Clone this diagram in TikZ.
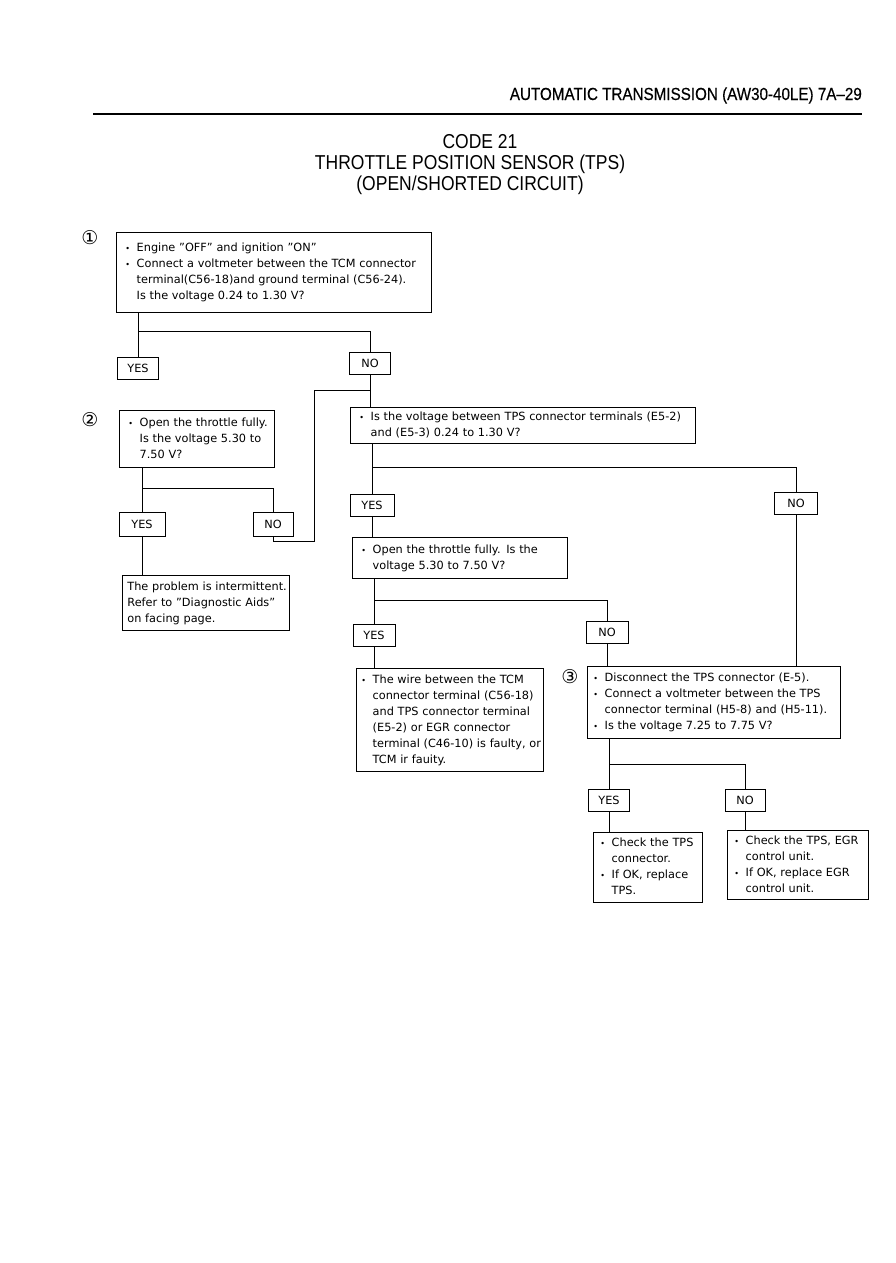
\documentclass[tikz,border=0pt]{standalone}
\usepackage{fontspec}
\setmainfont{DejaVu Sans}
\newfontfamily\hdfont{Liberation Sans}
\newfontfamily\hdbfont[FakeBold=0.4]{Liberation Sans}
\newfontfamily\symfont{DejaVu Sans}
\newcommand\bodyfont{\fontsize{11.3}{16}\selectfont}
\newcommand\bl{\makebox[1em][l]{\fontsize{8}{8}\selectfont•}}
\newcommand\cn{\hspace*{1em}}
\newcommand\tb[1]{\begin{tabular}{@{}l@{}}#1\end{tabular}}
\newcommand\tall[1]{\scalebox{1}[1.15]{#1}}
\begin{document}
\begin{tikzpicture}[x=1pt,y=-1pt,
  box/.style={draw, line width=0.8pt, inner xsep=9pt, inner ysep=0pt, anchor=north west, align=left, font=\bodyfont},
  yn/.style={draw, line width=0.8pt, minimum height=22pt, minimum width=41pt, inner sep=0pt, font=\bodyfont},
  num/.style={font=\symfont\fontsize{19}{19}\selectfont, inner sep=0pt},
  ttl/.style={anchor=base, font=\hdfont\fontsize{17.5}{20}\selectfont, inner sep=0pt},
  conn/.style={line width=0.8pt}]
\useasboundingbox (0,0) rectangle (896,1263);
\fill[white] (0,0) rectangle (896,1263);

% header
\node[anchor=base east, font=\hdbfont\fontsize{15.2}{18}\selectfont, inner sep=0pt] (hdr) at (862,100) {\tall{AUTOMATIC TRANSMISSION (AW30-40LE) 7A–29}};
\draw[line width=1.6pt] (93,114) -- (hdr.east |- 0,114);

% title
\node[ttl] (t1) at (480,148) {\tall{CODE 21}};
\node[ttl] (t2) at (470,169) {\tall{THROTTLE POSITION SENSOR (TPS)}};
\node[ttl] (t3) at (470,190) {\tall{(OPEN/SHORTED CIRCUIT)}};

% circled numbers
\node[num] (c1) at (90,238) {①};
\node[num] (c2) at (90,420) {②};
\node[num] (c3) at (570,677) {③};

% boxes
\node[box, minimum width=315pt, minimum height=80pt, text width=297pt] (b1) at (116,232) {\tb{%
\bl Engine "OFF" and ignition "ON"\\
\bl Connect a voltmeter between the TCM connector\\
\cn terminal(C56-18)and ground terminal (C56-24).\\
\cn Is the voltage 0.24 to 1.30 V?}};

\node[box, minimum width=155pt, minimum height=57pt, text width=137pt] (b2) at (119,410) {\tb{%
\bl Open the throttle fully.\\
\cn Is the voltage 5.30 to\\
\cn 7.50 V?}};

\node[box, inner xsep=5pt, minimum width=167pt, minimum height=55pt, text width=157pt] (bp) at (122,575) {\tb{%
The problem is intermittent.\\
Refer to "Diagnostic Aids"\\
on facing page.}};

\node[box, minimum width=345pt, minimum height=36pt, text width=327pt] (b3) at (350,407) {\tb{%
\bl Is the voltage between TPS connector terminals (E5-2)\\
\cn and (E5-3) 0.24 to 1.30 V?}};

\node[box, minimum width=215pt, minimum height=41pt, text width=197pt] (b4) at (352,537) {\tb{%
\bl Open the throttle fully. Is the\\
\cn voltage 5.30 to 7.50 V?}};

\node[box, inner xsep=5pt, minimum width=187pt, minimum height=103pt, text width=177pt] (b5) at (356,668) {\tb{%
\bl The wire between the TCM\\
\cn connector terminal (C56-18)\\
\cn and TPS connector terminal\\
\cn (E5-2) or EGR connector\\
\cn terminal (C46-10) is faulty, or\\
\cn TCM ir fauity.}};

\node[box, inner xsep=6pt, minimum width=253pt, minimum height=72pt, text width=241pt] (b6) at (587,666) {\tb{%
\bl Disconnect the TPS connector (E-5).\\
\bl Connect a voltmeter between the TPS\\
\cn connector terminal (H5-8) and (H5-11).\\
\bl Is the voltage 7.25 to 7.75 V?}};

\node[box, inner xsep=7pt, minimum width=109pt, minimum height=70pt, text width=95pt] (b7) at (593,832) {\tb{%
\bl Check the TPS\\
\cn connector.\\
\bl If OK, replace\\
\cn TPS.}};

\node[box, inner xsep=7pt, minimum width=141pt, minimum height=69pt, text width=127pt] (b8) at (727,830) {\tb{%
\bl Check the TPS, EGR\\
\cn control unit.\\
\bl If OK, replace EGR\\
\cn control unit.}};

% yes / no
\node[yn] (y1) at (138,368) {YES};
\node[yn] (n1) at (370,363.5) {NO};
\node[yn, minimum width=46pt, minimum height=24pt] (y2) at (142,524) {YES};
\node[yn, minimum width=40pt, minimum height=24pt] (n2) at (273,524) {NO};
\node[yn, minimum width=44pt] (y3) at (372,505.5) {YES};
\node[yn, minimum width=43pt] (n3) at (796,503) {NO};
\node[yn, minimum width=42pt] (y4) at (374,635) {YES};
\node[yn, minimum width=42pt] (n4) at (607,632) {NO};
\node[yn, minimum width=41pt] (y5) at (609,800.5) {YES};
\node[yn, minimum width=40pt] (n5) at (745,800) {NO};

\coordinate (lp) at (314,390);

% connectors
\draw[conn] (b1.south -| y1) -- (y1.north);
\draw[conn] (b1.south -| y1) ++(0,19) -| (n1.north);
\draw[conn] (n1.south) -- (b3.north -| n1);
\draw[conn] (n2.south) -- ++(0,5) -| (lp) -- (lp -| n1);

\draw[conn] (b2.south -| y2) -- (y2.north);
\draw[conn] (b2.south -| y2) ++(0,21) -| (n2.north);
\draw[conn] (y2.south) -- (bp.north -| y2);

\draw[conn] (b3.south -| y3) -- (y3.north);
\draw[conn] (b3.south -| y3) ++(0,24) -| (n3.north);
\draw[conn] (n3.south) -- (b6.north -| n3);
\draw[conn] (y3.south) -- (b4.north -| y3);

\draw[conn] (b4.south -| y4) -- (y4.north);
\draw[conn] (b4.south -| y4) ++(0,22) -| (n4.north);
\draw[conn] (y4.south) -- (b5.north -| y4);
\draw[conn] (n4.south) -- (b6.north -| n4);

\draw[conn] (b6.south -| y5) -- (y5.north);
\draw[conn] (b6.south -| y5) ++(0,26) -| (n5.north);
\draw[conn] (y5.south) -- (b7.north -| y5);
\draw[conn] (n5.south) -- (b8.north -| n5);
\end{tikzpicture}
\end{document}
